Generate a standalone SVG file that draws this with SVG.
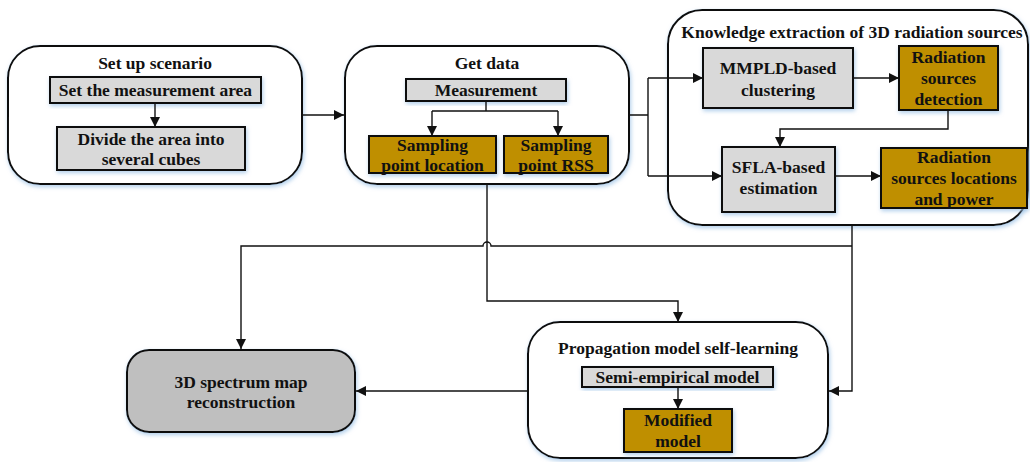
<svg xmlns="http://www.w3.org/2000/svg" width="1030" height="462" viewBox="0 0 1030 462">
<style>
text{font-family:"Liberation Serif","Times New Roman",serif;font-weight:bold;font-size:17.5px;fill:#111;text-anchor:middle}
.outer{fill:#fff;stroke:#111;stroke-width:2;filter:url(#glow)}
.gray{fill:#d9d9d9;stroke:#111;stroke-width:2;filter:url(#glow)}
.gold{fill:#bf8f00;stroke:#111;stroke-width:2;filter:url(#glow)}
.dark{fill:#bfbfbf;stroke:#111;stroke-width:2;filter:url(#glow)}
.c{fill:none;stroke:#111;stroke-width:1.4;marker-end:url(#ah)}
.n{fill:none;stroke:#111;stroke-width:1.4}
</style>
<defs>
<filter id="glow" x="-10%" y="-10%" width="120%" height="130%">
<feDropShadow dx="1" dy="2" stdDeviation="2" flood-color="#9dc3e6" flood-opacity="0.8"/>
</filter>
<marker id="ah" viewBox="0 0 10 10" refX="10" refY="5" markerWidth="10" markerHeight="10" markerUnits="userSpaceOnUse" orient="auto">
<path d="M0,0 L10,5 L0,10 z" fill="#111"/>
</marker>
</defs>
<rect width="1030" height="462" fill="#fff"/>

<g id="setup">
<rect class="outer" x="8" y="46" width="294" height="138" rx="32"/>
<text x="155" y="69">Set up scenario</text>
</g>
<g id="set-area">
<rect class="gray" x="50" y="77" width="211" height="26"/>
<text x="155.5" y="96">Set the measurement area</text>
</g>
<g id="divide">
<rect class="gray" x="57" y="127" width="188" height="43"/>
<text x="151" y="145">Divide the area into</text>
<text x="151" y="165">several cubes</text>
</g>

<g id="getdata">
<rect class="outer" x="345" y="46" width="284" height="138" rx="32"/>
<text x="487" y="69">Get data</text>
</g>
<g id="measurement">
<rect class="gray" x="406" y="79" width="160" height="22"/>
<text x="486" y="96">Measurement</text>
</g>
<g id="sp-location">
<rect class="gold" x="369" y="136" width="127" height="37"/>
<text x="432.5" y="150.5">Sampling</text>
<text x="432.5" y="170.5">point location</text>
</g>
<g id="sp-rss">
<rect class="gold" x="504" y="136" width="104" height="37"/>
<text x="556" y="150.5">Sampling</text>
<text x="556" y="170.5">point RSS</text>
</g>

<g id="knowledge">
<rect class="outer" x="668" y="10" width="360" height="215" rx="34"/>
<text x="852" y="37.5" font-size="17">Knowledge extraction of 3D radiation sources</text>
</g>
<g id="mmpld">
<rect class="gray" x="703" y="48" width="150" height="60"/>
<text x="778" y="74">MMPLD-based</text>
<text x="778" y="96">clustering</text>
</g>
<g id="detection">
<rect class="gold" x="899" y="46" width="99" height="64"/>
<text x="948.5" y="62.5">Radiation</text>
<text x="948.5" y="83.5">sources</text>
<text x="948.5" y="104.5">detection</text>
</g>
<g id="sfla">
<rect class="gray" x="722" y="147" width="113" height="65"/>
<text x="778.5" y="173">SFLA-based</text>
<text x="778.5" y="194">estimation</text>
</g>
<g id="loc-power">
<rect class="gold" x="881" y="148" width="146" height="60"/>
<text x="954" y="162.5">Radiation</text>
<text x="954" y="183.5">sources locations</text>
<text x="954" y="204.5">and power</text>
</g>

<g id="propagation">
<rect class="outer" x="528" y="322" width="300" height="136" rx="32"/>
<text x="678" y="354">Propagation model self-learning</text>
</g>
<g id="semi">
<rect class="gray" x="582" y="367" width="191" height="20"/>
<text x="677.5" y="383">Semi-empirical model</text>
</g>
<g id="modified">
<rect class="gold" x="624" y="409" width="108" height="43"/>
<text x="678" y="426">Modified</text>
<text x="678" y="447">model</text>
</g>

<g id="spectrum">
<rect class="dark" x="127" y="350" width="228" height="82" rx="22"/>
<text x="241" y="388">3D spectrum map</text>
<text x="241" y="408">reconstruction</text>
</g>

<g id="connectors">
<path class="c" d="M155,103 V127"/>
<path class="c" d="M302,115 H344"/>
<path class="n" d="M486,101 V111 M432,111 H558"/>
<path class="c" d="M432,111 V136"/>
<path class="c" d="M558,111 V136"/>
<path class="n" d="M629,115 H648 M648,78 V176"/>
<path class="c" d="M648,78 H703"/>
<path class="c" d="M648,176 H722"/>
<path class="c" d="M853,78 H899"/>
<path class="c" d="M948,110 V129 H780 V147"/>
<path class="c" d="M835,176 H881"/>
<path class="c" d="M852,225 V391 H829"/>
<path class="c" d="M852,246 H491 A4,4 0 0 0 483,246 H241 V349"/>
<path class="c" d="M487,184 V301 H678 V322"/>
<path class="c" d="M678,387 V409"/>
<path class="c" d="M528,391 H356"/>
</g>
</svg>
